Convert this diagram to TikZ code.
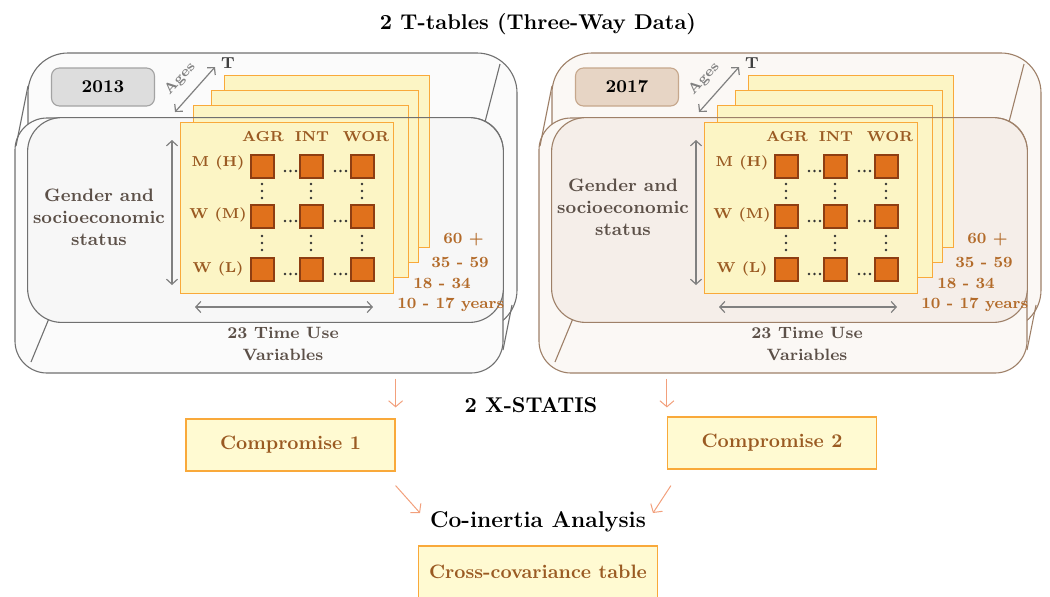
\documentclass[tikz,border=0pt]{standalone}
\usepackage[usenames, dvipsnames]{xcolor}
\usepackage{tikz}
\usetikzlibrary{positioning, arrows.meta}

\definecolor{lineA}{HTML}{707070}
\definecolor{fillA}{HTML}{FBFBFB}
\definecolor{innerA}{HTML}{F7F7F7}
\definecolor{yearA}{HTML}{DDDDDD}
\definecolor{yrlineA}{HTML}{A3A3A3}
\definecolor{lineB}{HTML}{9E8068}
\definecolor{fillB}{HTML}{FBF8F5}
\definecolor{innerB}{HTML}{F5EEE9}
\definecolor{yearB}{HTML}{E7D5C5}
\definecolor{yrlineB}{HTML}{C6A78C}
\definecolor{SheetFill}{HTML}{FCF5C5}
\definecolor{SheetLine}{HTML}{F9A93A}
\definecolor{CellFill}{HTML}{E0711C}
\definecolor{CellLine}{HTML}{8E3E12}
\definecolor{LabBrown}{HTML}{9A5A22}
\definecolor{AgeBrown}{HTML}{B36B2A}
\definecolor{GreyText}{HTML}{5C5048}
\definecolor{FlowLine}{HTML}{F2A07C}
\definecolor{BoxFill}{HTML}{FFFAD2}

\tikzset{
  heading/.style={font=\bfseries\fontsize{10.7}{13}\selectfont},
  slab/.style={line width=0.55pt, rounded corners=16pt, minimum width=244pt, minimum height=127.5pt},
  yearbox/.style={line width=0.55pt, rounded corners=4pt, minimum width=51.5pt, minimum height=19pt, font=\bfseries\fontsize{9}{11}\selectfont},
  sheet/.style={draw=SheetLine, fill=SheetFill, line width=0.6pt, anchor=north west, inner sep=0pt, minimum height=86pt},
  cell/.style={draw=CellLine, fill=CellFill, line width=1pt, minimum size=11.5pt, inner sep=0pt},
  lab/.style={font=\bfseries\fontsize{7.2}{8}\selectfont, text=LabBrown},
  agelab/.style={font=\bfseries\fontsize{7.8}{9}\selectfont, text=AgeBrown, anchor=west, inner sep=0pt},
  note/.style={font=\bfseries\fontsize{8.2}{11}\selectfont, text=GreyText, align=center},
  dimarrow/.style={draw=gray, line width=0.6pt, {Straight Barb[length=2.5pt,width=5.5pt]}-{Straight Barb[length=2.5pt,width=5.5pt]}},
  tbox/.style={draw=SheetLine, fill=BoxFill, line width=0.6pt, minimum width=104.5pt, minimum height=26pt, font=\bfseries\fontsize{9.7}{11}\selectfont, text=LabBrown},
  flow/.style={draw=FlowLine, line width=0.5pt, -{Straight Barb[length=3pt,width=7pt]}}
}

\begin{document}
\begin{tikzpicture}[x=0.5pt, y=-0.5pt]
  \useasboundingbox (0,0) rectangle (1050,596);
  \node[heading] (Title) at (538,24) {2 T-tables (Three-Way Data)};

  % one panel per year
  \foreach \dx/\yr/\pc/\gy in {0/2013/A/217, 524/2017/B/207} {
    \begin{scope}[shift={(\dx,0)}]
      \draw[draw=line\pc, fill=fill\pc, line width=0.55pt, rounded corners=20pt] (28,53) rectangle (517,330);
      \node[slab, draw=line\pc, fill=fill\pc] (Slab\yr) at (259,245.5) {};
      \draw[line\pc, line width=0.55pt] (28,86) -- (16,146) (500,64) -- (485,122) (50,316) -- (31,362) (512,305) -- (503,350);
      \node[fill=inner\pc, rounded corners=17pt, minimum width=237.5pt, minimum height=102pt] (Inner\yr) at (265.5,220) {};
      \node[yearbox, draw=yrline\pc, fill=year\pc] (Year\yr) at (103,87) {\yr};

      \coordinate (AgeLo\yr) at (175,112);
      \coordinate (AgeHi\yr) at (215,67);
      \draw[dimarrow] (AgeLo\yr) -- (AgeHi\yr);
      \node[rotate=48, text=gray, inner sep=0pt, font=\bfseries\fontsize{7.2}{8}\selectfont] (Ages\yr) at (180,79) {Ages};
      \node[text=darkgray, inner sep=0pt, font=\bfseries\fontsize{8}{9}\selectfont] (T\yr) at (228,63) {T};

      \foreach \n/\x/\y/\w in {4/224/75/102.5, 3/211/90/103.5, 2/193/105/107.5}
        \node[sheet, minimum width=\w pt] (Sheet\n\yr) at (\x,\y) {};
      \draw[line\pc, line width=0.55pt, rounded corners=17pt] (Inner\yr.north west) rectangle (Inner\yr.south east);
      \node[sheet, minimum width=106.5pt, minimum height=85.5pt] (Sheet1\yr) at (180,122) {};

      \foreach \t/\x in {AGR/263, INT/312, WOR/366}
        \node[lab] (Head\t\yr) at (\x,137) {\t};
      \foreach \t/\y/\r in {M (H)/163/1, W (M)/215/2, W (L)/269/3}
        \node[lab] (Row\r\yr) at (218,\y) {\t};

      \foreach \c/\cx in {1/262, 2/311, 3/362}
        \foreach \r/\ry in {1/166, 2/216, 3/269}
          \node[cell] (Cell\yr-\r\c) at (\cx,\ry) {};

      % dots between the cells
      \foreach \ry in {166, 216, 269}
        \foreach \x in {285, 290.5, 296, 335, 340.5, 346}
          \fill[black!80] (\x,\ry+5) circle (0.7pt);
      \foreach \cx in {262, 311, 362}
        \foreach \y in {184, 191, 198, 236, 243, 250}
          \fill[black!80] (\cx,\y) circle (0.7pt);

      \coordinate (RowTop\yr) at (172,140);
      \coordinate (RowBot\yr) at (172,285);
      \coordinate (ColL\yr) at (195,307);
      \coordinate (ColR\yr) at (373,307);
      \draw[dimarrow] (RowTop\yr) -- (RowBot\yr);
      \draw[dimarrow] (ColL\yr) -- (ColR\yr);

      \node[note, font=\bfseries\fontsize{9}{11}\selectfont] (Gender\yr) at (99,\gy) {Gender and\\socioeconomic\\status};
      \node[note] (TimeUse\yr) at (283,344) {23 Time Use\\Variables};

      \node[agelab] (AgeD\yr) at (443,240) {60 +};
      \node[agelab] (AgeC\yr) at (431,262) {35 - 59};
      \node[agelab] (AgeB\yr) at (413,283) {18 - 34};
      \node[agelab] (AgeA\yr) at (397,305) {10 - 17 years};
    \end{scope}
  }

  \node[heading] (XStatis) at (531,405) {2 X-STATIS};
  \node[tbox] (Comp1) at (290.5,445) {Compromise 1};
  \node[tbox] (Comp2) at (772,443) {Compromise 2};
  \node[heading, font=\bfseries\fontsize{11.4}{13}\selectfont] (CoInertia) at (538,522) {Co-inertia Analysis};
  \node[tbox, below=3pt of CoInertia, minimum width=119.5pt] (CrossCov) {Cross-covariance table};

  \draw[flow, shorten <=2.5pt, shorten >=5.5pt] (Comp1.north east |- Slab2013.south) -- (Comp1.north east);
  \draw[flow, shorten <=2.5pt, shorten >=4.5pt] (Comp2.north west |- Slab2017.south) -- (Comp2.north west);
  \draw[flow] ([yshift=-7pt]Comp1.south east) -- ([shift={(-1.5pt,4.5pt)}]CoInertia.west);
  \draw[flow] ([shift={(2pt,-8pt)}]Comp2.south west) -- ([yshift=4.5pt]CoInertia.east);
\end{tikzpicture}
\end{document}
